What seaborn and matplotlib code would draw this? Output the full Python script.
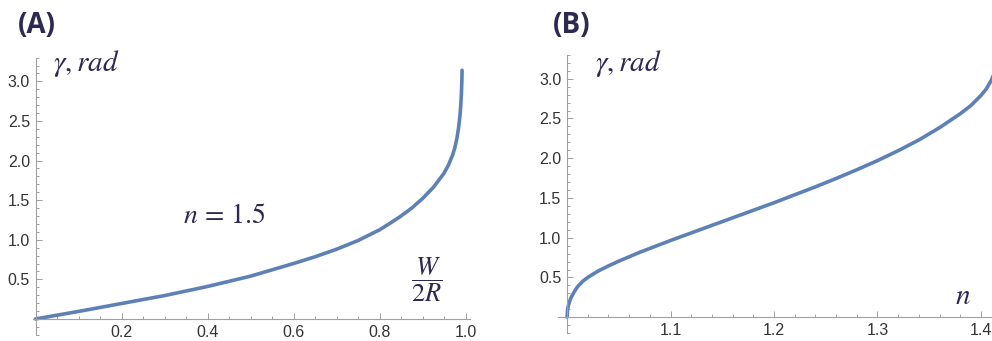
"""
gamma (rad) against W/2R at n = 1.5 and against n, two panels
"""

import numpy as np
import pandas as pd
import matplotlib
matplotlib.use('Agg')
import matplotlib.pyplot as plt
from matplotlib.ticker import MultipleLocator, FixedLocator
import seaborn as sns

# panel A: gamma vs W/2R, n = 1.5
w_ratio = [0.0, 0.1, 0.2, 0.3, 0.4, 0.5, 0.6, 0.65, 0.7, 0.75, 0.8, 0.825,
           0.85, 0.875, 0.9, 0.925, 0.95, 0.96, 0.97, 0.975, 0.98, 0.984,
           0.987, 0.989, 0.9905, 0.9915, 0.992]
gamma_a = [0.0, 0.095, 0.195, 0.295, 0.41, 0.54, 0.70, 0.785, 0.88, 0.99, 1.125, 1.21,
           1.30, 1.40, 1.52, 1.66, 1.84, 1.94, 2.07, 2.16, 2.28, 2.42,
           2.56, 2.70, 2.85, 3.00, 3.14]

# panel B: gamma vs n
n_vals = [1.0, 1.0005, 1.001, 1.002, 1.004, 1.007, 1.01, 1.015, 1.02, 1.03,
          1.04, 1.05, 1.06, 1.07, 1.08, 1.09, 1.1, 1.12, 1.14, 1.16,
          1.18, 1.2, 1.22, 1.24, 1.26, 1.28, 1.3, 1.32, 1.34, 1.36,
          1.38, 1.39, 1.4, 1.405, 1.41, 1.413, 1.4142]
gamma_b = [0.0, 0.09, 0.13, 0.18, 0.25, 0.32, 0.38, 0.45, 0.50, 0.58,
           0.645, 0.705, 0.76, 0.815, 0.865, 0.915, 0.965, 1.06, 1.155, 1.25,
           1.345, 1.44, 1.54, 1.64, 1.745, 1.855, 1.97, 2.095, 2.23, 2.385,
           2.56, 2.66, 2.79, 2.87, 2.98, 3.08, 3.14]

a_xticks = [0.2, 0.4, 0.6, 0.8, 1.0]
b_xticks = [1.1, 1.2, 1.3, 1.4]
y_ticks = [0.5, 1.0, 1.5, 2.0, 2.5, 3.0]

LINE = '#5e81b5'
INK = '#2d2950'
AXIS = '#a0a0a0'

sns.set_theme(style='white')
plt.rcParams['font.family'] = ['Liberation Sans', 'DejaVu Sans']
plt.rcParams['mathtext.fontset'] = 'stix'

fig = plt.figure(figsize=(9.92, 3.41), dpi=100)
ax_a = fig.add_axes([0.0332, 0.0182, 0.4404, 0.8129])
ax_b = fig.add_axes([0.5622, 0.0232, 0.458, 0.8158])

df_a = pd.DataFrame({'x': w_ratio, 'g': gamma_a})
df_b = pd.DataFrame({'x': n_vals, 'g': gamma_b})
sns.lineplot(data=df_a, x='x', y='g', ax=ax_a, color=LINE, linewidth=2.6)
sns.lineplot(data=df_b, x='x', y='g', ax=ax_b, color=LINE, linewidth=2.6)


def style_axes(ax, xlim, xmajor, xminor, origin):
    ax.set_xlim(*xlim)
    ax.set_ylim(-0.2, 3.3)
    ax.set_xlabel('')
    ax.set_ylabel('')
    ax.patch.set_alpha(0)
    for s in ['top', 'right']:
        ax.spines[s].set_visible(False)
    ax.spines['left'].set_position(('data', origin))
    ax.spines['bottom'].set_position(('data', 0))
    for s in ['left', 'bottom']:
        ax.spines[s].set_color(AXIS)
        ax.spines[s].set_linewidth(0.8)
    ax.xaxis.set_major_locator(FixedLocator(xmajor))
    ax.xaxis.set_minor_locator(MultipleLocator(xminor))
    ax.yaxis.set_major_locator(FixedLocator(y_ticks))
    ax.yaxis.set_minor_locator(MultipleLocator(0.1))
    ax.set_xticklabels([f'{v:.1f}' for v in xmajor])
    ax.set_yticklabels([f'{v:.1f}' for v in y_ticks])
    ax.tick_params(which='both', direction='in', color=AXIS, width=0.7,
                   labelsize=11.5, labelcolor='#333333')
    ax.tick_params(which='major', length=4.5, pad=4)
    ax.tick_params(which='minor', length=2.5)
    ax.tick_params(axis='x', which='both', bottom=True)
    ax.tick_params(axis='y', which='both', left=True)


style_axes(ax_a, (-0.006, 1.01), a_xticks, 0.05, 0)
style_axes(ax_b, (0.991, 1.43), b_xticks, 0.02, 1.0)

# axis captions and annotations
ax_a.text(0.04, 3.13, r'$\gamma,rad$', fontsize=21, color=INK, va='baseline')
ax_b.text(1.027, 3.10, r'$\gamma,rad$', fontsize=21, color=INK, va='baseline')
ax_a.text(0.342, 1.21, r'$n\,=\,1.5$', fontsize=20, color=INK, va='baseline')
ax_a.text(0.91, 0.49, r'$\dfrac{W}{2R}$', fontsize=19, color=INK,
          ha='center', va='center')
ax_b.text(1.383, 0.27, r'$n$', fontsize=21, color=INK, ha='center', va='center')

fig.text(18 / 992, 1 - 33 / 341, '(A)', fontsize=20, fontweight='bold',
         color=INK, family=['Open Sans', 'DejaVu Sans'], va='baseline')
fig.text(553 / 992, 1 - 33 / 341, '(B)', fontsize=20, fontweight='bold',
         color=INK, family=['Open Sans', 'DejaVu Sans'], va='baseline')

fig.savefig('out.png', dpi=100)
plt.close(fig)
